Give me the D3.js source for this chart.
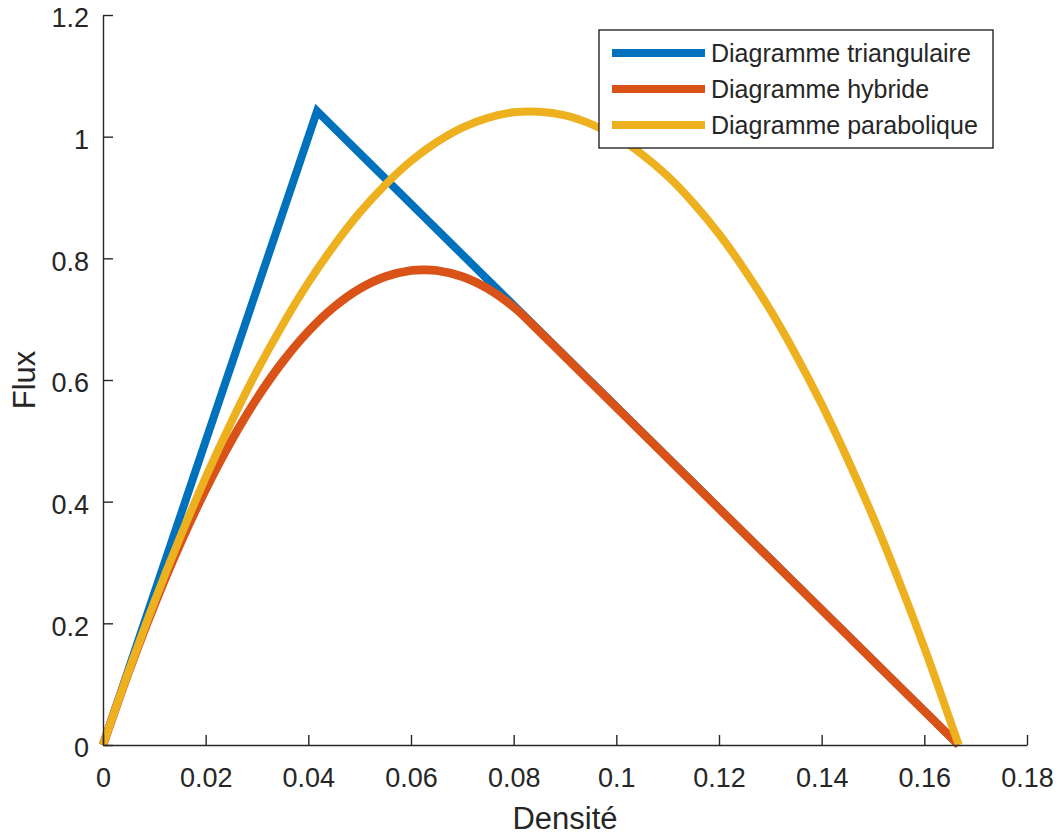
<!DOCTYPE html>
<html>
<head>
<meta charset="utf-8">
<script src="https://cdn.jsdelivr.net/npm/d3@7/dist/d3.min.js"></script>
<style>
  body { margin: 0; background: #fff; }
  svg text { font-family: "Liberation Sans", Arial, Helvetica, sans-serif; fill: #262626; }
</style>
</head>
<body>
<script>
"use strict"

// Values
const triDensity = [0, 0.0417, 0.1667]
const triFlux    = [0, 1.042, 0]

// hybrid: curved part up to 0.0833, then the straight congested branch
const hybDensity = [0, 0.005, 0.01, 0.015, 0.02, 0.025, 0.03, 0.035, 0.04, 0.045, 0.05, 0.055, 0.06, 0.0625, 0.065, 0.07, 0.075, 0.08, 0.0833]
const hybFlux    = [0, 0.12, 0.23, 0.33, 0.42, 0.5, 0.57, 0.63, 0.68, 0.72, 0.75, 0.77, 0.78, 0.781, 0.78, 0.77, 0.75, 0.72, 0.694]
const hybTailDensity = [0.0833, 0.1667]
const hybTailFlux    = [0.694, 0]

const parDensity = [0, 0.005, 0.01, 0.015, 0.02, 0.025, 0.03, 0.035, 0.04, 0.045, 0.05, 0.055, 0.06, 0.065, 0.07, 0.075, 0.08, 0.085, 0.09, 0.095, 0.1, 0.105, 0.11, 0.115, 0.12, 0.125, 0.13, 0.135, 0.14, 0.145, 0.15, 0.155, 0.16, 0.165, 0.1667]
const parFlux    = [0, 0.121, 0.235, 0.341, 0.44, 0.531, 0.615, 0.691, 0.76, 0.821, 0.875, 0.921, 0.96, 0.991, 1.015, 1.031, 1.04, 1.041, 1.035, 1.021, 1.0, 0.971, 0.935, 0.891, 0.84, 0.781, 0.715, 0.641, 0.56, 0.471, 0.375, 0.271, 0.16, 0.041, 0]

const seriesNames  = ["Diagramme triangulaire", "Diagramme hybride", "Diagramme parabolique"]
const seriesColors = ["#0072BD", "#D95319", "#EDB120"]

const xTicks = [0, 0.02, 0.04, 0.06, 0.08, 0.1, 0.12, 0.14, 0.16, 0.18]
const yTicks = [0, 0.2, 0.4, 0.6, 0.8, 1, 1.2]

const smooth = d3.curveCatmullRom.alpha(0.5)
const zip = (xs, ys) => xs.map((x, i) => ({ x, y : ys[i] }))
const series = [
  { name : seriesNames[0], color : seriesColors[0], parts : [{ points : zip(triDensity, triFlux), curve : d3.curveLinear }] },
  { name : seriesNames[1], color : seriesColors[1], parts : [
    { points : zip(hybDensity, hybFlux), curve : smooth },
    { points : zip(hybTailDensity, hybTailFlux), curve : d3.curveLinear },
  ] },
  { name : seriesNames[2], color : seriesColors[2], parts : [{ points : zip(parDensity, parFlux), curve : smooth }] },
]

const width  = 1058
const height = 838
const margin = { top : 15, right : 31, bottom : 93, left : 103 }
const axisColor = "#262626"

const x = d3.scaleLinear().domain([0, 0.18]).range([margin.left, width - margin.right])
const y = d3.scaleLinear().domain([0, 1.2]).range([height - margin.bottom, margin.top])

const svg = d3.select("body").append("svg")
  .attr("width", width)
  .attr("height", height)

// one path per series, joined parts continue with L instead of M
const seriesPath = s => s.parts
  .map(({ points, curve }, i) => {
    const d = d3.line().x(p => x(p.x)).y(p => y(p.y)).curve(curve)(points)
    return i === 0 ? d : d.replace(/^M/, "L")
  })
  .join("")

const plot = svg.append("g").attr("class", "lines")
plot.selectAll("path").data(series).enter()
  .append("path")
  .attr("d", seriesPath)
  .attr("fill", "none")
  .attr("stroke", s => s.color)
  .attr("stroke-width", (_, i) => i === 1 ? 8.6 : 8)
  .attr("stroke-linejoin", "miter")

// x axis, ticks pointing inward
const xAxis = svg.append("g")
  .attr("transform", `translate(0 ${y(0)})`)
  .call(d3.axisBottom(x).tickValues(xTicks).tickSize(-10).tickSizeOuter(0).tickPadding(23).tickFormat(d3.format("~g")))
xAxis.select(".domain").attr("stroke", axisColor).attr("stroke-width", 1.4)
xAxis.selectAll(".tick line").attr("stroke", axisColor).attr("stroke-width", 1.4)
xAxis.selectAll(".tick text").attr("font-size", 27).attr("dy", "0.71em")

// y axis
const yAxis = svg.append("g")
  .attr("transform", `translate(${x(0)} 0)`)
  .call(d3.axisLeft(y).tickValues(yTicks).tickSize(-10).tickSizeOuter(0).tickPadding(14).tickFormat(d3.format("~g")))
yAxis.select(".domain").attr("stroke", axisColor).attr("stroke-width", 1.4)
yAxis.selectAll(".tick line").attr("stroke", axisColor).attr("stroke-width", 1.4)
yAxis.selectAll(".tick text").attr("font-size", 27).attr("dy", "0.44em")

svg.selectAll(".tick text").attr("fill", axisColor).attr("font-family", "Liberation Sans, Arial, sans-serif")

// axis labels
svg.append("text")
  .text("Densité")
  .attr("x", (x(0) + x(0.18)) / 2)
  .attr("y", 829)
  .attr("text-anchor", "middle")
  .attr("font-size", 31)

svg.append("text")
  .text("Flux")
  .attr("transform", `translate(35 ${(y(0) + y(1.2)) / 2}) rotate(-90)`)
  .attr("text-anchor", "middle")
  .attr("font-size", 31)

// legend
const legend = svg.append("g").attr("transform", "translate(599 30)")
legend.append("rect")
  .attr("width", 394)
  .attr("height", 118)
  .attr("fill", "#fff")
  .attr("stroke", axisColor)
  .attr("stroke-width", 1.4)

const rows = legend.selectAll(".key").data(series).enter()
  .append("g")
  .attr("class", "key")
  .attr("transform", (_, i) => `translate(0 ${23 + i * 36})`)
rows.append("line")
  .attr("x1", 13).attr("x2", 106)
  .attr("stroke", d => d.color)
  .attr("stroke-width", 8)
rows.append("text")
  .text(d => d.name)
  .attr("x", 112)
  .attr("dy", "0.35em")
  .attr("font-size", 25)
  .attr("fill", "#000")
</script>
</body>
</html>
